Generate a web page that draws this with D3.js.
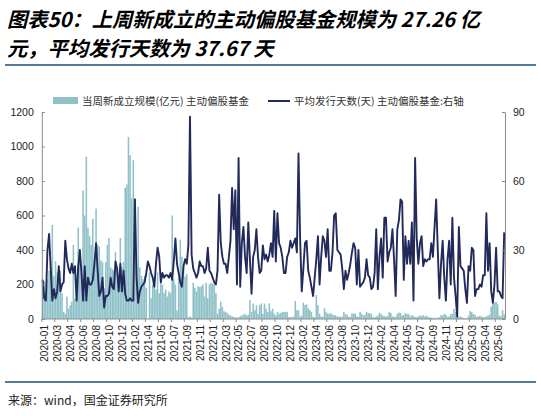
<!DOCTYPE html>
<html>
<head>
<meta charset="utf-8">
<script src="https://cdn.jsdelivr.net/npm/d3@7"></script>
<style>
  html, body { margin: 0; padding: 0; background: #fff; }
  svg { display: block; }
</style>
</head>
<body>
<div id="chart"></div>
<script>
// weekly new active equity fund size (100m CNY), left axis
const fundSize = [
  230, 220, 110, 230, 280, 300, 545, 250, 335, 270,
  220, 280, 150, 40, 30, 130, 60, 80, 100, 430,
  120, 230, 530, 330, 300, 745, 600, 940, 530, 480,
  430, 580, 350, 640, 430, 420, 340, 330, 180, 330,
  430, 470, 300, 290, 280, 390, 290, 250, 470, 300,
  330, 760, 780, 1055, 950, 700, 920, 700, 300, 650,
  300, 250, 230, 250, 180, 0, 270, 120, 200, 230,
  170, 270, 150, 226, 200, 150, 170, 130, 160, 150,
  600, 230, 200, 50, 240, 460, 360, 300, 245, 260,
  10, 15, 8, 210, 180, 160, 190, 185, 190, 200,
  130, 210, 120, 200, 210, 205, 200, 150, 30, 60,
  100, 70, 45, 40, 35, 25, 20, 15, 12, 10,
  8, 10, 15, 20, 25, 30, 20, 25, 110, 40,
  90, 50, 80, 30, 80, 90, 30, 90, 60, 40,
  90, 45, 60, 30, 20, 40, 30, 35, 40, 42,
  40, 42, 10, 12, 10, 15, 104, 52, 50, 14,
  20, 95, 81, 85, 62, 52, 40, 14, 10, 139,
  81, 30, 14, 12, 62, 40, 33, 30, 33, 25,
  23, 20, 14, 15, 12, 14, 42, 29, 25, 14,
  12, 33, 30, 33, 15, 12, 42, 30, 20, 25,
  42, 35, 33, 30, 12, 10, 15, 20, 37, 30,
  20, 15, 14, 18, 42, 35, 15, 14, 12, 30,
  37, 35, 20, 23, 33, 30, 28, 14, 23, 18,
  12, 10, 15, 20, 18, 22, 15, 20, 12, 10,
  8, 6, 8, 5, 8, 10, 23, 20, 29, 25,
  12, 15, 29, 30, 58, 42, 15, 12, 15, 10,
  5, 3, 4, 20, 46, 40, 29, 25, 12, 15,
  18, 15, 10, 12, 15, 20, 25, 71, 110, 95,
  100, 85, 20, 15, 52, 27.26,
];

// average issuing days, right axis
const issueDays = [
  17, 9, 8, 30, 37, 22, 8, 13, 9, 12,
  23, 12, 15, 16, 34, 26, 22, 20, 24, 20,
  23, 8, 23, 30, 20, 8, 23, 8, 18, 15,
  15, 17, 24, 33, 21, 10, 12, 18, 5, 10,
  10, 11, 18, 14, 13, 25, 22, 12, 24, 12,
  21, 11, 8, 8, 9, 8, 8, 52, 18, 7,
  12, 14, 15, 16, 20, 25, 23, 20, 18, 14,
  24, 31, 27, 16, 20, 18, 19, 19, 18, 20,
  17, 25, 35, 24, 20, 16, 14, 23, 26, 24,
  32, 88, 28, 22, 20, 18, 20, 25, 23, 23,
  20, 22, 31, 21, 20, 18, 16, 15, 21, 54,
  33, 27, 24, 24, 20, 27, 34, 57, 39, 56,
  15, 70, 14, 33, 40, 27, 20, 42, 26, 11,
  27, 30, 39, 27, 20, 21, 32, 26, 28, 25,
  28, 33, 27, 47, 25, 46, 33, 31, 27, 20,
  20, 27, 29, 34, 31, 33, 35, 29, 72, 35,
  12, 22, 33, 34, 21, 18, 14, 10, 18, 26,
  36, 15, 27, 36, 34, 27, 39, 21, 21, 29,
  45, 46, 30, 29, 28, 22, 13, 21, 17, 20,
  24, 29, 33, 31, 15, 30, 14, 15, 16, 18,
  26, 19, 18, 13, 14, 20, 39, 13, 27, 35,
  18, 44, 44, 25, 29, 31, 39, 26, 10, 39,
  43, 52, 51, 17, 36, 24, 34, 24, 42, 8,
  70, 35, 24, 33, 36, 23, 26, 25, 26, 26,
  33, 27, 40, 52, 30, 9, 24, 34, 18, 8,
  26, 34, 15, 44, 18, 10, 1, 40, 23, 22,
  21, 13, 7, 23, 21, 31, 30, 10, 13, 13,
  15, 14, 19, 19, 46, 21, 33, 12, 7, 15,
  31, 12, 12, 10, 9, 37.67,
];

// one label every 8 weeks
const tickLabels = [
  '2020-01', '2020-03', '2020-04', '2020-06', '2020-08', '2020-10',
  '2020-12', '2021-02', '2021-04', '2021-05', '2021-07', '2021-09',
  '2021-11', '2022-01', '2022-03', '2022-05', '2022-07', '2022-08',
  '2022-10', '2022-12', '2023-02', '2023-04', '2023-06', '2023-08',
  '2023-10', '2023-12', '2024-02', '2024-04', '2024-05', '2024-07',
  '2024-09', '2024-11', '2025-01', '2025-03', '2025-04', '2025-06',
];
const labelStep = 8;

const leftTicks = [0, 200, 400, 600, 800, 1000, 1200];
const rightTicks = [0, 30, 60, 90];

const barName = '当周新成立规模(亿元) 主动偏股基金';
const lineName = '平均发行天数(天) 主动偏股基金:右轴';

const W = 541;
const H = 416;
const plot = {
  left: 41.8, right: 505, top: 112, bottom: 319,
};

const barColor = '#8fc1c8';
const lineColor = '#222a5c';
const axisColor = '#8c8c8c';
const ruleColor = '#1f4e79';
const numFont = '"Liberation Sans", Arial, sans-serif';
const cjkFont = '"Noto Sans CJK SC", "Noto Sans", sans-serif';

const svg = d3.select('#chart').append('svg')
  .attr('width', W)
  .attr('height', H);

// title
const title = svg.append('g')
  .attr('font-family', cjkFont)
  .attr('font-weight', 'bold')
  .attr('font-style', 'italic')
  .attr('font-size', 20.3)
  .attr('fill', '#000');
title.append('text').attr('x', 7).attr('y', 27)
  .text('图表50：上周新成立的主动偏股基金规模为 27.26 亿');
title.append('text').attr('x', 7).attr('y', 56)
  .text('元，平均发行天数为 37.67 天');

// rules
svg.append('line')
  .attr('x1', 5).attr('x2', 536).attr('y1', 65).attr('y2', 65)
  .attr('stroke', ruleColor).attr('stroke-width', 1.5);
svg.append('line')
  .attr('x1', 5).attr('x2', 536).attr('y1', 382).attr('y2', 382)
  .attr('stroke', ruleColor).attr('stroke-width', 1.5);

// source
svg.append('text')
  .attr('x', 8).attr('y', 405)
  .attr('font-family', cjkFont)
  .attr('font-size', 12)
  .attr('fill', '#222')
  .text('来源：wind，国金证券研究所');

// scales
const idx = d3.range(fundSize.length);
const x = d3.scaleBand()
  .domain(idx)
  .range([plot.left, plot.right])
  .paddingInner(0.04)
  .paddingOuter(0.02);
const yL = d3.scaleLinear().domain([0, 1200]).range([plot.bottom, plot.top]);
const yR = d3.scaleLinear().domain([0, 90]).range([plot.bottom, plot.top]);
const step = x.step();

// bars
svg.append('g').selectAll('rect')
  .data(fundSize)
  .enter()
  .append('rect')
  .attr('x', (d, i) => x(i))
  .attr('width', x.bandwidth())
  .attr('y', (d) => yL(d))
  .attr('height', (d) => yL(0) - yL(d))
  .attr('fill', barColor);

// line
const line = d3.line()
  .x((d, i) => x(i) + x.bandwidth() / 2)
  .y((d) => yR(d));
svg.append('path')
  .datum(issueDays)
  .attr('d', line)
  .attr('fill', 'none')
  .attr('stroke', lineColor)
  .attr('stroke-width', 1.9)
  .attr('stroke-linejoin', 'round');

// left axis
const gl = svg.append('g')
  .attr('transform', `translate(${plot.left},0)`)
  .call(d3.axisLeft(yL).tickValues(leftTicks).tickFormat(d3.format('d'))
    .tickSize(-3).tickSizeOuter(0).tickPadding(8));
// right axis
const gr = svg.append('g')
  .attr('transform', `translate(${plot.right},0)`)
  .call(d3.axisRight(yR).tickValues(rightTicks).tickFormat(d3.format('d'))
    .tickSize(-3).tickSizeOuter(0).tickPadding(8));
[gl, gr].forEach((g) => {
  g.selectAll('path,line').attr('stroke', axisColor);
  g.selectAll('text')
    .attr('font-family', numFont)
    .attr('font-size', 10.5)
    .attr('fill', '#222');
});

// x axis
const labelIdx = tickLabels.map((t, k) => k * labelStep);
const gx = svg.append('g');
gx.append('line')
  .attr('x1', plot.left).attr('x2', plot.right)
  .attr('y1', plot.bottom).attr('y2', plot.bottom)
  .attr('stroke', axisColor);
gx.selectAll('.xtick')
  .data(labelIdx)
  .enter()
  .append('line')
  .attr('class', 'xtick')
  .attr('x1', (i) => x(i) - (step - x.bandwidth()) / 2)
  .attr('x2', (i) => x(i) - (step - x.bandwidth()) / 2)
  .attr('y1', plot.bottom)
  .attr('y2', plot.bottom + 3)
  .attr('stroke', axisColor);
gx.selectAll('.xlabel')
  .data(tickLabels)
  .enter()
  .append('text')
  .attr('class', 'xlabel')
  .attr('transform', (d, k) => `translate(${x(labelIdx[k]) + x.bandwidth() / 2 + 2},325) rotate(-90)`)
  .attr('text-anchor', 'end')
  .attr('dy', '0.35em')
  .attr('font-family', numFont)
  .attr('font-size', 10)
  .attr('fill', '#222')
  .text((d) => d);

// legend
const lg = svg.append('g')
  .attr('font-family', cjkFont)
  .attr('font-size', 10.5)
  .attr('fill', '#333');
lg.append('rect')
  .attr('x', 53).attr('y', 97).attr('width', 25).attr('height', 7)
  .attr('fill', barColor);
lg.append('text').attr('x', 82).attr('y', 105).text(barName);
lg.append('line')
  .attr('x1', 268).attr('x2', 290).attr('y1', 101).attr('y2', 101)
  .attr('stroke', lineColor).attr('stroke-width', 2);
lg.append('text').attr('x', 294).attr('y', 105).text(lineName);
</script>
</body>
</html>
